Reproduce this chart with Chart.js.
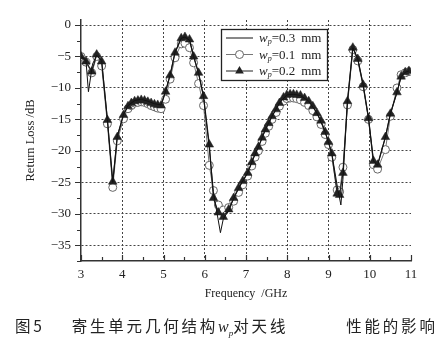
<!DOCTYPE html>
<html>
<head>
<meta charset="utf-8">
<script src="https://cdn.jsdelivr.net/npm/chart.js@4.4.1/dist/chart.umd.min.js"></script>
<style>
  html, body { margin: 0; padding: 0; background: #fff; }
  #wrap { position: relative; width: 443px; height: 359px; overflow: hidden; }
  #c { position: absolute; left: 0; top: 0; }
  #cap { position: absolute; left: 15px; top: 314px; font-family: "Noto Sans CJK SC", sans-serif; font-size: 15.5px; color: #222; white-space: nowrap; letter-spacing: 2.8px; }
  #cap i { font-family: "Liberation Serif", serif; font-size: 16px; letter-spacing: 0; }
  #cap sub { font-family: "Liberation Serif", serif; font-size: 9px; font-style: italic; letter-spacing: 0; }
</style>
</head>
<body>
<div id="wrap">
  <canvas id="c" width="443" height="359"></canvas>
  <div id="cap"><span>图5</span><span style="margin-left:27px">寄生单元几何结构<i>w</i><sub>p</sub>对天线</span><span style="display:inline-block;width:58px"></span><span>性能的影响</span></div>
</div>
<script>
// ---- data ----
const legendLabels = ["0.3", "0.1", "0.2"]; // w_p values in mm
const xTicks = [3, 4, 5, 6, 7, 8, 9, 10, 11];
const yTicks = [-35, -30, -25, -20, -15, -10, -5, 0];

// sampled frequencies (GHz) of the marked curves
const freqMarked = [3.00, 3.12, 3.26, 3.38, 3.50, 3.64, 3.77, 3.88, 4.03, 4.14,
  4.22, 4.30, 4.38, 4.46, 4.54, 4.62, 4.70, 4.78, 4.86, 4.94,
  5.05, 5.16, 5.28, 5.43, 5.52, 5.63, 5.73, 5.85, 5.97, 6.11,
  6.21, 6.33, 6.45, 6.58, 6.70, 6.82, 6.92, 7.04, 7.14, 7.22,
  7.30, 7.39, 7.47, 7.55, 7.63, 7.73, 7.81, 7.91, 7.99, 8.07,
  8.15, 8.23, 8.32, 8.42, 8.52, 8.62, 8.72, 8.82, 8.92, 9.00,
  9.08, 9.21, 9.27, 9.35, 9.46, 9.59, 9.71, 9.84, 9.97, 10.09,
  10.19, 10.38, 10.50, 10.66, 10.76, 10.86, 10.95];

// w_p = 0.2 mm (triangles)
const rl02 = [-5.0, -5.8, -7.4, -4.7, -5.8, -15.1, -24.9, -17.8, -14.3, -12.9,
  -12.4, -12.1, -12.0, -11.9, -12.0, -12.2, -12.4, -12.6, -12.7, -12.8,
  -10.6, -8.0, -4.4, -2.1, -1.9, -2.3, -5.0, -7.6, -11.3, -19.0,
  -27.5, -29.8, -30.5, -29.3, -27.5, -25.9, -24.8, -23.5, -21.8, -20.4,
  -19.4, -17.9, -16.6, -15.6, -14.5, -13.4, -12.4, -11.5, -11.1, -11.0,
  -11.0, -11.1, -11.2, -11.6, -12.1, -12.9, -14.0, -15.2, -17.0, -18.6,
  -20.4, -26.8, -27.0, -23.5, -12.1, -3.6, -5.4, -9.5, -14.8, -21.6,
  -22.2, -17.8, -14.1, -10.7, -8.2, -7.5, -7.3];

// w_p = 0.1 mm (circles)
const rl01 = [-5.0, -5.9, -7.6, -5.0, -6.5, -15.7, -25.8, -18.4, -14.9, -13.3,
  -12.8, -12.4, -12.3, -12.2, -12.3, -12.5, -12.8, -13.0, -13.2, -13.3,
  -11.8, -8.6, -5.2, -3.0, -2.9, -3.6, -6.0, -9.3, -12.8, -22.3,
  -26.3, -28.6, -29.4, -29.0, -28.0, -26.6, -25.4, -24.0, -22.4, -21.0,
  -20.0, -18.5, -17.2, -16.1, -15.0, -13.9, -12.9, -12.1, -11.7, -11.6,
  -11.6, -11.7, -11.9, -12.3, -12.8, -13.6, -14.6, -15.8, -17.4, -19.0,
  -21.0, -26.2, -26.5, -22.6, -12.7, -3.9, -5.7, -9.8, -15.0, -22.2,
  -22.9, -19.8, -14.5, -10.0, -7.9, -7.6, -7.4];

// w_p = 0.3 mm (plain line)
const freqSolid = [3.00, 3.12, 3.18, 3.28, 3.38, 3.50, 3.64, 3.77, 3.88, 4.03,
  4.14, 4.30, 4.46, 4.62, 4.78, 4.94, 5.05, 5.16, 5.28, 5.43,
  5.52, 5.63, 5.73, 5.85, 5.97, 6.11, 6.21, 6.30, 6.38, 6.45,
  6.58, 6.70, 6.82, 6.92, 7.04, 7.14, 7.30, 7.47, 7.63, 7.81,
  7.99, 8.15, 8.32, 8.52, 8.72, 8.92, 9.08, 9.21, 9.30, 9.35,
  9.46, 9.59, 9.71, 9.84, 9.97, 10.09, 10.19, 10.38, 10.50, 10.66,
  10.76, 10.86, 10.95];
const rl03 = [-5.0, -5.6, -10.6, -6.2, -4.8, -5.6, -15.0, -25.0, -17.6, -14.2,
  -12.8, -12.0, -11.8, -12.1, -12.5, -12.7, -10.5, -7.9, -4.3, -2.1,
  -1.9, -2.4, -5.0, -7.7, -11.4, -19.5, -26.5, -30.0, -33.0, -30.8,
  -29.5, -27.6, -26.0, -24.8, -23.5, -21.8, -19.4, -16.6, -14.5, -12.4,
  -11.1, -11.0, -11.2, -12.1, -14.0, -17.0, -20.4, -25.5, -28.6, -24.5,
  -12.1, -3.6, -5.4, -9.5, -14.8, -21.6, -22.3, -17.8, -14.1, -10.7,
  -8.2, -7.5, -7.3];

const pts = (xs, ys) => xs.map((x, i) => ({ x: x, y: ys[i] }));

const SERIF = '"Liberation Serif", "DejaVu Serif", serif';

const minorTicks = {
  id: 'minorTicks',
  afterDraw(chart) {
    const ctx = chart.ctx;
    const xs = chart.scales.x, ys = chart.scales.y;
    const a = chart.chartArea;
    ctx.save();
    ctx.strokeStyle = '#333';
    ctx.lineWidth = 1.2;
    ctx.beginPath();
    for (let v = 3; v <= 11.001; v += 0.5) {
      const px = Math.round(xs.getPixelForValue(v)) + 0.5;
      const len = Math.abs(v - Math.round(v)) < 1e-6 ? 6 : 4;
      ctx.moveTo(px, a.bottom);
      ctx.lineTo(px, a.bottom - len);
    }
    for (let v = -37.5; v <= 0.001; v += 2.5) {
      const py = Math.round(ys.getPixelForValue(v)) + 0.5;
      const len = Math.abs(v % 5) < 1e-6 ? 6 : 4;
      ctx.moveTo(a.left, py);
      ctx.lineTo(a.left - len, py);
    }
    ctx.stroke();
    ctx.restore();
  }
};

const legendBox = {
  id: 'legendBox',
  afterDraw(chart) {
    const ctx = chart.ctx;
    const bx = 221.5, by = 29.5, bw = 106, bh = 51;
    ctx.save();
    ctx.fillStyle = '#fff';
    ctx.fillRect(bx, by, bw, bh);
    ctx.strokeStyle = '#222';
    ctx.lineWidth = 1.3;
    ctx.strokeRect(bx, by, bw, bh);
    const rows = [38, 54.5, 71];
    const styles = [
      { line: '#111', marker: null },
      { line: '#777', marker: 'circle' },
      { line: '#222', marker: 'triangle' }
    ];
    for (let i = 0; i < 3; i++) {
      const y = rows[i];
      ctx.strokeStyle = styles[i].line;
      ctx.lineWidth = 1;
      ctx.beginPath();
      ctx.moveTo(226, y); ctx.lineTo(253, y);
      ctx.stroke();
      if (styles[i].marker === 'circle') {
        ctx.beginPath();
        ctx.arc(239.5, y, 4, 0, Math.PI * 2);
        ctx.fillStyle = '#fff'; ctx.fill();
        ctx.strokeStyle = '#666'; ctx.stroke();
      } else if (styles[i].marker === 'triangle') {
        const r = 5;
        ctx.beginPath();
        ctx.moveTo(239.5, y - r);
        ctx.lineTo(239.5 + r * 0.866, y + r * 0.5);
        ctx.lineTo(239.5 - r * 0.866, y + r * 0.5);
        ctx.closePath();
        ctx.fillStyle = '#222'; ctx.fill();
      }
      ctx.fillStyle = '#222';
      ctx.textBaseline = 'alphabetic';
      ctx.font = 'italic 13px ' + SERIF;
      let x = 259;
      ctx.fillText('w', x, y + 4);
      x += ctx.measureText('w').width;
      ctx.font = 'italic 8px ' + SERIF;
      ctx.fillText('p', x, y + 6);
      x += ctx.measureText('p').width;
      ctx.font = '13px ' + SERIF;
      ctx.fillText('=' + legendLabels[i], x, y + 4);
      x += ctx.measureText('=' + legendLabels[i]).width + 6;
      ctx.fillText('mm', x, y + 4);
    }
    ctx.restore();
  }
};

new Chart(document.getElementById('c'), {
  type: 'line',
  data: {
    datasets: [
      {
        label: 'wp=0.3 mm',
        data: pts(freqSolid, rl03),
        borderColor: '#111', borderWidth: 1,
        pointRadius: 0, tension: 0, order: 0
      },
      {
        label: 'wp=0.2 mm',
        data: pts(freqMarked, rl02),
        borderColor: '#222', borderWidth: 1.2,
        pointStyle: 'triangle', pointRadius: 5,
        pointBackgroundColor: '#222', pointBorderColor: '#222', pointBorderWidth: 0.5,
        tension: 0, order: 1
      },
      {
        label: 'wp=0.1 mm',
        data: pts(freqMarked, rl01),
        borderColor: '#777', borderWidth: 1,
        pointStyle: 'circle', pointRadius: 4,
        pointBackgroundColor: '#fff', pointBorderColor: '#666', pointBorderWidth: 1,
        tension: 0, order: 2
      }
    ]
  },
  options: {
    responsive: false,
    animation: false,
    devicePixelRatio: 1,
    layout: { padding: { left: 0, right: 32, top: 20, bottom: 53 } },
    plugins: { legend: { display: false }, tooltip: { enabled: false } },
    scales: {
      x: {
        type: 'linear', min: 3, max: 11,
        afterBuildTicks: (s) => { s.ticks = xTicks.map(v => ({ value: v })); },
        afterFit: (s) => { s.height = 45; },
        ticks: { font: { family: SERIF, size: 13 }, color: '#222', padding: 6, maxRotation: 0 },
        grid: {
          drawTicks: false,
          color: (c) => (c.tick && (c.tick.value === 3 || c.tick.value === 11)) ? 'rgba(0,0,0,0)' : '#444',
          lineWidth: 1
        },
        border: { display: true, color: '#333', width: 1.5, dash: [2, 2] },
        title: { display: true, text: 'Frequency  /GHz', font: { family: SERIF, size: 12 }, color: '#222', padding: { top: 0, bottom: 5 } }
      },
      y: {
        type: 'linear', min: -37.5, max: 0.8,
        afterBuildTicks: (s) => { s.ticks = yTicks.map(v => ({ value: v })); },
        afterFit: (s) => { s.width = 81; },
        ticks: {
          font: { family: SERIF, size: 13 }, color: '#222', padding: 10,
          callback: (v) => (v < 0 ? '\u2212' + Math.abs(v) : String(v))
        },
        grid: { drawTicks: false, color: '#444', lineWidth: 1 },
        border: { display: true, color: '#333', width: 1.5, dash: [2, 2] },
        title: { display: true, text: 'Return Loss /dB', font: { family: SERIF, size: 12.5 }, color: '#222', padding: { top: 23, bottom: 0 } }
      }
    }
  },
  plugins: [minorTicks, legendBox]
});
</script>
</body>
</html>
